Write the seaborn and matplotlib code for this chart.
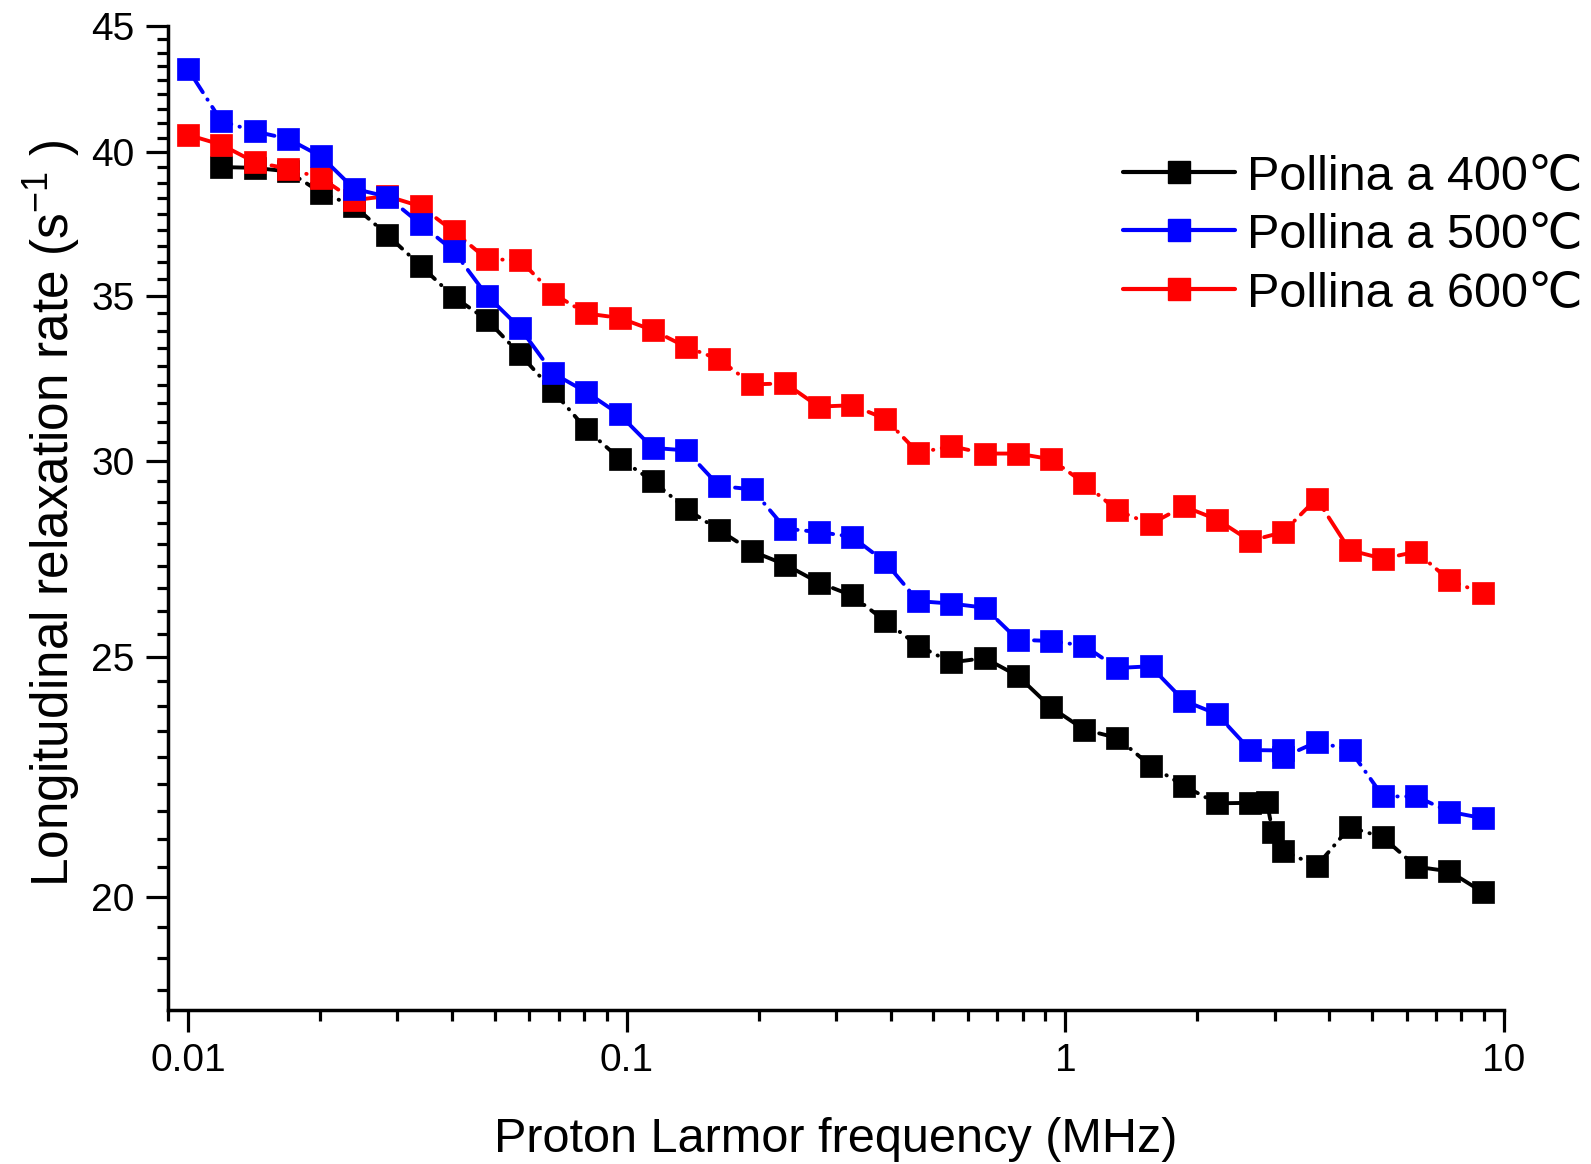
import matplotlib
matplotlib.use('Agg')
import matplotlib.pyplot as plt
import seaborn as sns
from matplotlib.lines import Line2D
from matplotlib.ticker import MultipleLocator, LogLocator, FixedLocator, FixedFormatter, NullFormatter

sns.set_style('ticks')
plt.rcParams['font.family'] = ['Liberation Sans', 'DejaVu Sans']
plt.rcParams['mathtext.fontset'] = 'custom'
plt.rcParams['mathtext.rm'] = 'Liberation Sans'
for key in ['text.color', 'axes.labelcolor', 'xtick.color', 'ytick.color', 'axes.edgecolor']:
    plt.rcParams[key] = 'black'

# Larmor frequencies (MHz)
freq = [0.0100, 0.0119, 0.0142, 0.0169, 0.0201, 0.0239, 0.0284, 0.0339, 0.0403, 0.0480,
        0.0571, 0.0680, 0.0809, 0.0963, 0.1146, 0.1364, 0.1624, 0.1933, 0.2301, 0.2739,
        0.3260, 0.3881, 0.4619, 0.5499, 0.6546, 0.7792, 0.9275, 1.104, 1.314, 1.564,
        1.862, 2.217, 2.639, 3.141, 3.739, 4.451, 5.298, 6.307, 7.507, 8.936]

freq_400 = freq[1:33] + [2.88, 2.97] + freq[33:]
rate_400 = [39.46, 39.43, 39.30, 38.53, 38.06, 37.05, 36.00, 34.97, 34.23, 33.15,
            32.03, 30.91, 30.08, 29.46, 28.71, 28.14, 27.59, 27.25, 26.80, 26.48,
            25.86, 25.27, 24.88, 24.98, 24.57, 23.86, 23.37, 23.19, 22.60, 22.18,
            21.82, 21.83, 21.85, 21.24, 20.88, 20.58, 21.34, 21.14, 20.57, 20.48, 20.09]

freq_500 = freq[:34] + [3.141] + freq[34:]
rate_500 = [43.22, 41.19, 40.79, 40.51, 39.85, 38.67, 38.39, 37.42, 36.50, 35.01,
            33.97, 32.56, 32.00, 31.34, 30.38, 30.31, 29.32, 29.23, 28.18, 28.09,
            27.97, 27.32, 26.34, 26.28, 26.18, 25.41, 25.38, 25.27, 24.75, 24.79,
            24.01, 23.71, 22.93, 22.92, 22.78, 23.10, 22.94, 21.96, 21.96, 21.65, 21.52]

freq_600 = freq
rate_600 = [40.66, 40.29, 39.64, 39.40, 39.06, 38.26, 38.41, 38.04, 37.17, 36.22,
            36.18, 35.07, 34.43, 34.29, 33.90, 33.38, 32.99, 32.23, 32.26, 31.57,
            31.61, 31.22, 30.24, 30.43, 30.22, 30.22, 30.06, 29.40, 28.66, 28.30,
            28.77, 28.42, 27.86, 28.09, 28.98, 27.62, 27.40, 27.58, 26.86, 26.53]

labels = ['Pollina a 400\u2103', 'Pollina a 500\u2103', 'Pollina a 600\u2103']
colors = ['#000000', '#0000ff', '#ff0000']

fig = plt.figure(figsize=(15.91, 11.64), dpi=100)
ax = fig.add_axes([0.1056, 0.1323, 0.8397, 0.8454])

line_kw = dict(marker='s', markersize=15.5, markeredgewidth=0.5, linewidth=2.8,
               linestyle=(0, (7, 2.2, 0.1, 2.2)), dash_capstyle='round',
               estimator=None, sort=False, legend=False)

# black underneath, red in the middle, blue on top (as in the original)
sns.lineplot(x=freq_400, y=rate_400, color=colors[0], markeredgecolor=colors[0], ax=ax, zorder=2, **line_kw)
sns.lineplot(x=freq_600, y=rate_600, color=colors[2], markeredgecolor=colors[2], ax=ax, zorder=3, **line_kw)
sns.lineplot(x=freq_500, y=rate_500, color=colors[1], markeredgecolor=colors[1], ax=ax, zorder=4, **line_kw)

ax.set_xscale('log')
ax.set_yscale('log')
ax.set_xlim(0.009, 10)
ax.set_ylim(18, 45)

ax.xaxis.set_major_locator(FixedLocator([0.01, 0.1, 1, 10]))
ax.xaxis.set_major_formatter(FixedFormatter(['0.01', '0.1', '1', '10']))
ax.xaxis.set_minor_locator(LogLocator(base=10, subs=range(2, 10)))
ax.xaxis.set_minor_formatter(NullFormatter())

ax.yaxis.set_major_locator(FixedLocator([20, 25, 30, 35, 40, 45]))
ax.yaxis.set_major_formatter(FixedFormatter(['20', '25', '30', '35', '40', '45']))
ax.yaxis.set_minor_locator(MultipleLocator(5 / 9))
ax.yaxis.set_minor_formatter(NullFormatter())

for side in ['top', 'right']:
    ax.spines[side].set_visible(False)
for side in ['left', 'bottom']:
    ax.spines[side].set_linewidth(2.5)

ax.tick_params(which='major', direction='out', length=16, width=2.3, labelsize=28, pad=8)
ax.tick_params(which='minor', direction='out', length=8, width=2.3)

ax.set_xlabel('Proton Larmor frequency (MHz)', fontsize=35, labelpad=27)
ax.set_ylabel('Longitudinal relaxation rate (s$^{-1}$ )', fontsize=37)
ax.yaxis.set_label_coords(-0.064, 0.505)

handles = [Line2D([], [], color=c, marker='s', markersize=15.5, linewidth=3.0, markeredgecolor=c)
           for c in colors]
fig.legend(handles, labels, loc='upper right', bbox_to_anchor=(0.995, 0.868), frameon=False,
           fontsize=35, handlelength=2.3, handletextpad=0.25, labelspacing=0.28,
           borderpad=0, borderaxespad=0)

fig.savefig('out.png', dpi=100, facecolor='white')
